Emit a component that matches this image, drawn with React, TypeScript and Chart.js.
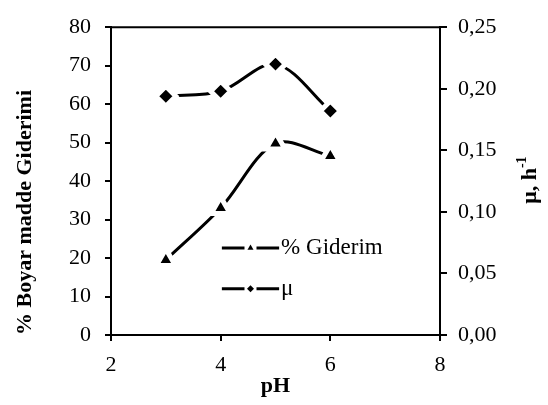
import React, { useEffect, useRef } from "react";
import { Chart, registerables } from "chart.js";

Chart.register(...registerables);

const phValues = [3, 4, 5, 6];
const giderimValues = [19.5, 33, 49.8, 46.5];
const muValues = [0.194, 0.198, 0.22, 0.182];
const legendLabels = ["% Giderim", "μ"];
const xTitle = "pH";
const yTitle = "% Boyar madde Giderimi";
const y1TitleMain = "μ, h";
const y1TitleSup = "-1";

const FONT = "'Times New Roman', 'Liberation Serif', serif";

function drawMarker(ctx: CanvasRenderingContext2D, style: string, x: number, y: number, r: number) {
  ctx.beginPath();
  if (style === "triangle") {
    ctx.moveTo(x, y - r);
    ctx.lineTo(x + r * 0.866, y + r * 0.5);
    ctx.lineTo(x - r * 0.866, y + r * 0.5);
  } else {
    ctx.moveTo(x, y - r);
    ctx.lineTo(x + r, y);
    ctx.lineTo(x, y + r);
    ctx.lineTo(x - r, y);
  }
  ctx.closePath();
}

const extrasPlugin = {
  id: "extras",
  afterDraw(chart: any) {
    const ctx: CanvasRenderingContext2D = chart.ctx;
    const a = chart.chartArea;
    ctx.save();
    // top border
    ctx.strokeStyle = "#000";
    ctx.lineWidth = 2;
    ctx.beginPath();
    ctx.moveTo(a.left - 1, a.top);
    ctx.lineTo(a.right + 1, a.top);
    ctx.stroke();

    // legend
    const w = a.right - a.left;
    const h = a.bottom - a.top;
    const lx0 = a.left + w * 0.337;
    const lx1 = a.left + w * 0.511;
    const styles = ["triangle", "rectRot"];
    const ys = [a.top + h * 0.717, a.top + h * 0.85];
    legendLabels.forEach((label, i) => {
      const y = ys[i];
      ctx.lineWidth = 3;
      ctx.strokeStyle = "#000";
      ctx.beginPath();
      ctx.moveTo(lx0, y);
      ctx.lineTo(lx1, y);
      ctx.stroke();
      const cx = (lx0 + lx1) / 2;
      ctx.fillStyle = "#fff";
      ctx.fillRect(cx - 6, y - 3, 12, 6);
      drawMarker(ctx, styles[i], cx, y, 3.5);
      ctx.fillStyle = "#000";
      ctx.fill();
      ctx.fillStyle = "#000";
      ctx.font = `23px ${FONT}`;
      ctx.textBaseline = "middle";
      ctx.textAlign = "left";
      ctx.fillText(label, lx1 + 2, y);
    });

    // right axis title with superscript
    const tx = 530;
    const ty = (a.top + a.bottom) / 2 - 1;
    ctx.translate(tx, ty);
    ctx.rotate(-Math.PI / 2);
    ctx.font = `bold 22px ${FONT}`;
    const mainW = ctx.measureText(y1TitleMain).width;
    ctx.font = `bold 14px ${FONT}`;
    const supW = ctx.measureText(y1TitleSup).width;
    const total = mainW + supW;
    ctx.textAlign = "left";
    ctx.textBaseline = "middle";
    ctx.font = `bold 22px ${FONT}`;
    ctx.fillText(y1TitleMain, -total / 2, 0);
    ctx.font = `bold 14px ${FONT}`;
    ctx.fillText(y1TitleSup, -total / 2 + mainW, -8);
    ctx.restore();
  },
};

export default function App() {
  const ref = useRef<HTMLCanvasElement>(null);
  useEffect(() => {
    if (!ref.current) return;
    const tickFont = { family: FONT, size: 22 };
    const titleFont = { family: FONT, size: 22, weight: "bold" as const };
    const common = {
      borderColor: "#000",
      backgroundColor: "#000",
      borderWidth: 3,
      tension: 0.33,
      pointBorderColor: "#fff",
      pointBorderWidth: 5,
      pointRadius: 10,
      pointHoverRadius: 10,
    };
    const chart = new Chart(ref.current, {
      type: "line",
      data: {
        datasets: [
          {
            ...common,
            label: legendLabels[0],
            data: phValues.map((x, i) => ({ x, y: giderimValues[i] })),
            yAxisID: "y",
            pointStyle: "triangle",
            pointRadius: 11,
          },
          {
            ...common,
            label: legendLabels[1],
            data: phValues.map((x, i) => ({ x, y: muValues[i] })),
            yAxisID: "y1",
            pointStyle: "rectRot",
          },
        ],
      },
      options: {
        animation: false,
        responsive: false,
        maintainAspectRatio: false,
        layout: { padding: { top: 15, left: 0, right: 0, bottom: 0 } },
        plugins: { legend: { display: false }, tooltip: { enabled: false } },
        scales: {
          x: {
            type: "linear",
            min: 2,
            max: 8,
            afterFit: (s: any) => {
              s.height = 70;
            },
            ticks: { stepSize: 2, color: "#000", font: tickFont, padding: 11 },
            grid: { drawOnChartArea: false, drawTicks: true, tickLength: 6, color: "#000", lineWidth: 2 },
            border: { display: true, color: "#000", width: 2 },
            title: { display: true, text: xTitle, color: "#000", font: titleFont, padding: { top: 0, bottom: 5 } },
          },
          y: {
            type: "linear",
            position: "left",
            min: 0,
            max: 80,
            afterFit: (s: any) => {
              s.width = 111;
            },
            ticks: { stepSize: 10, color: "#000", font: tickFont, padding: 14 },
            grid: { drawOnChartArea: false, drawTicks: true, tickLength: 6, color: "#000", lineWidth: 2 },
            border: { display: true, color: "#000", width: 2 },
            title: {
              display: true,
              text: yTitle,
              align: "start",
              color: "#000",
              font: titleFont,
              padding: { top: 12, bottom: 0 },
            },
          },
          y1: {
            type: "linear",
            position: "right",
            min: 0,
            max: 0.25,
            afterFit: (s: any) => {
              s.width = 108;
            },
            ticks: {
              stepSize: 0.05,
              color: "#000",
              font: tickFont,
              padding: 11,
              callback: (v: any) => Number(v).toFixed(2).replace(".", ","),
            },
            grid: { drawOnChartArea: false, drawTicks: true, tickLength: 7, color: "#000", lineWidth: 2 },
            border: { display: true, color: "#000", width: 2 },
          },
        },
      },
      plugins: [extrasPlugin],
    });
    return () => chart.destroy();
  }, []);
  return (
    <div style={{ position: "absolute", left: 0, top: 0, width: 548, height: 405, background: "#fff" }}>
      <canvas ref={ref} width={548} height={405} style={{ display: "block" }} />
    </div>
  );
}
